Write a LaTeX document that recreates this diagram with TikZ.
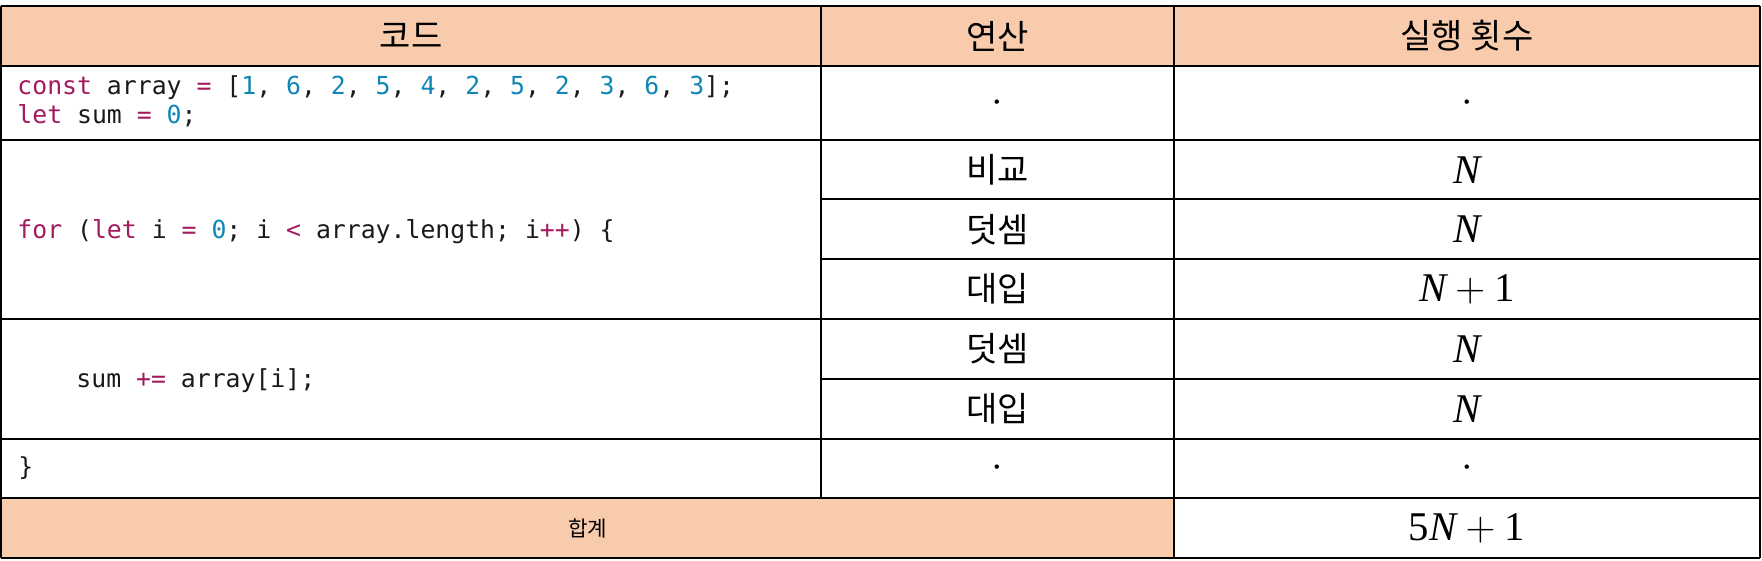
\documentclass[tikz,border=0pt]{standalone}
\usepackage{fontspec}
\newfontfamily\krfont{Noto Sans CJK KR}
\newfontfamily\codefont{DejaVu Sans Mono}
\newfontfamily\tmf{Liberation Serif}
\definecolor{hdr}{HTML}{F8CBAD}
\definecolor{kwc}{HTML}{A31A5E}
\definecolor{numc}{HTML}{0E86B6}
\definecolor{txtc}{HTML}{1A1A1A}
\newcommand\ckw[1]{\textcolor{kwc}{#1}}
\newcommand\cnum[1]{\textcolor{numc}{#1}}
\newcommand\mN{\mbox{\tmf\itshape N}}
\newcommand\mdig[1]{\mbox{\tmf #1}}
\begin{document}
\begin{tikzpicture}[x=0.5pt,y=-0.5pt,
  code/.style={anchor=base west, inner sep=0, font=\codefont\fontsize{12.4}{14}\selectfont, text=txtc},
  kr/.style={inner sep=0, font=\krfont\fontsize{17}{20}\selectfont},
  krsmall/.style={inner sep=0, font=\krfont\fontsize{10.6}{13}\selectfont},
  mth/.style={inner sep=0, font=\fontsize{20.4}{24}\selectfont},
  dotc/.style={inner sep=0, anchor=base, font=\fontsize{20.5}{24}\selectfont},
  hline/.style={line width=1pt, black},
  vline/.style={line width=0.8pt, black}]
\fill[white] (0,0) rectangle (1762,561);
\useasboundingbox (0,0) rectangle (1762,561);
% fills
\fill[hdr] (1,6) rectangle (1760,66);
\fill[hdr] (1,498) rectangle (1174,558);
% horizontal rules
\foreach \yy in {6,66,140,319,438.5,498,558} \draw[hline] (1,\yy) -- (1760,\yy);
\foreach \yy in {199.5,259,379} \draw[hline] (821,\yy) -- (1760,\yy);
% vertical rules
\draw[vline] (1,6) -- (1,558);
\draw[vline] (1760,6) -- (1760,558);
\draw[vline] (821,6) -- (821,498);
\draw[vline] (1174,6) -- (1174,558);
% header
\node[kr] (h1) at (411,36) {코드};
\node[kr] (h2) at (997.5,36) {연산};
\node[kr] (h3) at (1467,36) {실행 횟수};
% row 1
\node[code] (c1) at (17,95) {\ckw{const} array \ckw{=} [\cnum{1}, \cnum{6}, \cnum{2}, \cnum{5}, \cnum{4}, \cnum{2}, \cnum{5}, \cnum{2}, \cnum{3}, \cnum{6}, \cnum{3}];};
\node[code] (c2) at (17,124) {\ckw{let} sum \ckw{=} \cnum{0};};
\node[dotc] (o1) at (997.5,112.5) {$\cdot$};
\node[dotc] (n1) at (1467,112.5) {$\cdot$};
% for row
\node[code] (c3) at (17,238.5) {\ckw{for} (\ckw{let} i \ckw{=} \cnum{0}; i \ckw{<} array.length; i\ckw{++}) \{};
\node[kr] (o2) at (997.5,169.7) {비교};
\node[kr] (o3) at (997.5,229.3) {덧셈};
\node[kr] (o4) at (997.5,289) {대입};
\node[mth] (n2) at (1467,169.7) {$\mN$};
\node[mth] (n3) at (1467,229.3) {$\mN$};
\node[mth] (n4) at (1467,289) {$\mN+\mdig{1}$};
% sum row
\node[code] (c4) at (76,387.5) {sum \ckw{+=} array[i];};
\node[kr] (o5) at (997.5,349) {덧셈};
\node[kr] (o6) at (997.5,408.7) {대입};
\node[mth] (n5) at (1467,349) {$\mN$};
\node[mth] (n6) at (1467,408.7) {$\mN$};
% closing row
\node[code] (c5) at (18,475) {\}};
\node[dotc] (o7) at (997.5,477.8) {$\cdot$};
\node[dotc] (n7) at (1467,477.8) {$\cdot$};
% total row
\node[krsmall] (t1) at (587.5,528) {합계};
\node[mth] (t2) at (1467,528) {$\mdig{5}\mN+\mdig{1}$};
\end{tikzpicture}
\end{document}
